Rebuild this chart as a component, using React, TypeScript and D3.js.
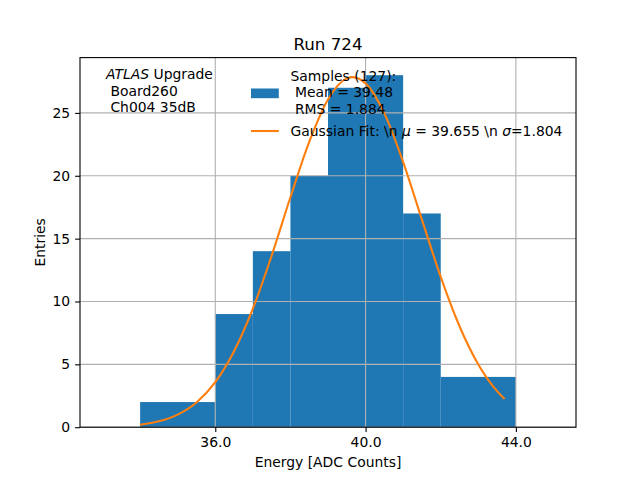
import React, { useEffect, useRef } from 'react';
import * as d3 from 'd3';

// histogram bins (left edge, right edge, entries)
const binLo = [34, 36, 37, 38, 39, 40, 41, 42];
const binHi = [36, 37, 38, 39, 40, 41, 42, 44];
const entries = [2, 9, 14, 20, 27, 28, 17, 4];

// gaussian fit curve
const fitX = [34.0, 34.5, 35.0, 35.5, 36.0, 36.5, 37.0, 37.5, 38.0, 38.5, 39.0, 39.5, 39.65, 40.0, 40.5, 41.0, 41.5, 42.0, 42.5, 43.0, 43.5, 43.7];
const fitY = [0.2, 0.47, 1.0, 1.96, 3.58, 6.04, 9.43, 13.64, 18.29, 22.69, 26.07, 27.75, 27.85, 27.35, 24.96, 21.09, 16.51, 11.96, 8.03, 4.99, 2.87, 2.25];

const xTicks = [36, 40, 44];
const yTicks = [0, 5, 10, 15, 20, 25];

const infoLines = ['Board260', 'Ch004 35dB'];
const sampleLines = ['Samples (127):', ' Mean = 39.48', ' RMS = 1.884'];

const App: React.FC = () => {
  const svgRef = useRef<SVGSVGElement>(null);

  useEffect(() => {
    if (!svgRef.current) return;
    const svg = d3.select(svgRef.current);
    svg.selectAll('*').remove();

    const width = 640;
    const height = 480;
    const margin = { top: 57.6, right: 64, bottom: 52.8, left: 80 };
    const innerW = width - margin.left - margin.right;
    const innerH = height - margin.top - margin.bottom;
    const font = 'DejaVu Sans, sans-serif';

    const x = d3.scaleLinear().domain([32.4, 45.6]).range([0, innerW]);
    const y = d3.scaleLinear().domain([0, 29.4]).range([innerH, 0]);

    svg.append('rect').attr('width', width).attr('height', height).attr('fill', '#fff');

    const g = svg.append('g').attr('transform', `translate(${margin.left},${margin.top})`);

    // bars
    g.selectAll('rect.bar')
      .data(entries)
      .enter()
      .append('rect')
      .attr('class', 'bar')
      .attr('x', (d, i) => x(binLo[i]))
      .attr('y', d => y(d))
      .attr('width', (d, i) => x(binHi[i]) - x(binLo[i]))
      .attr('height', d => innerH - y(d))
      .attr('fill', '#1f77b4');

    // grid on top of bars
    g.append('g')
      .selectAll('line')
      .data(xTicks)
      .enter()
      .append('line')
      .attr('x1', d => x(d))
      .attr('x2', d => x(d))
      .attr('y1', 0)
      .attr('y2', innerH)
      .attr('stroke', '#b0b0b0')
      .attr('stroke-width', 1.1);
    g.append('g')
      .selectAll('line')
      .data(yTicks)
      .enter()
      .append('line')
      .attr('x1', 0)
      .attr('x2', innerW)
      .attr('y1', d => y(d))
      .attr('y2', d => y(d))
      .attr('stroke', '#b0b0b0')
      .attr('stroke-width', 1.1);

    // fit curve
    const line = d3.line<number>()
      .x((d, i) => x(fitX[i]))
      .y(d => y(d))
      .curve(d3.curveMonotoneX);
    g.append('path')
      .attr('d', line(fitY) as string)
      .attr('fill', 'none')
      .attr('stroke', '#ff7f0e')
      .attr('stroke-width', 2.1);

    // spines
    g.append('rect')
      .attr('width', innerW)
      .attr('height', innerH)
      .attr('fill', 'none')
      .attr('stroke', '#000')
      .attr('stroke-width', 1.1);

    // axes
    const xAxis = g.append('g')
      .attr('transform', `translate(0,${innerH})`)
      .call(d3.axisBottom(x).tickValues(xTicks).tickFormat(d3.format('.1f')).tickSize(4.9).tickPadding(4.9));
    const yAxis = g.append('g')
      .call(d3.axisLeft(y).tickValues(yTicks).tickSize(4.9).tickPadding(4.9));
    [xAxis, yAxis].forEach(a => {
      a.select('.domain').remove();
      a.selectAll('line').attr('stroke', '#000').attr('stroke-width', 1.1);
      a.selectAll('text').attr('font-family', font).attr('font-size', 13.9).attr('fill', '#000');
    });
    xAxis.selectAll('text').attr('dy', '0.74em');

    // labels
    svg.append('text')
      .attr('x', margin.left + innerW / 2)
      .attr('y', 50)
      .attr('text-anchor', 'middle')
      .attr('font-family', font)
      .attr('font-size', 16.7)
      .text('Run 724');
    svg.append('text')
      .attr('x', margin.left + innerW / 2)
      .attr('y', 466.5)
      .attr('text-anchor', 'middle')
      .attr('font-family', font)
      .attr('font-size', 13.9)
      .text('Energy [ADC Counts]');
    svg.append('text')
      .attr('transform', `translate(44.5,${margin.top + innerH / 2}) rotate(-90)`)
      .attr('text-anchor', 'middle')
      .attr('font-family', font)
      .attr('font-size', 13.9)
      .text('Entries');

    // top-left annotation
    const info = svg.append('text')
      .attr('font-family', font)
      .attr('font-size', 13.9)
      .style('white-space', 'pre');
    const l1 = info.append('tspan').attr('x', 106).attr('y', 79);
    l1.append('tspan').attr('font-style', 'italic').text('ATLAS');
    l1.append('tspan').text(' Upgrade');
    infoLines.forEach((t, i) => {
      info.append('tspan').attr('x', 106).attr('y', 95.7 + i * 16.7).text(' ' + t);
    });

    // legend
    const leg = svg.append('g').attr('font-family', font).attr('font-size', 13.9);
    leg.append('rect')
      .attr('x', 251)
      .attr('y', 88.5)
      .attr('width', 27.8)
      .attr('height', 9.7)
      .attr('fill', '#1f77b4');
    const st = leg.append('text').style('white-space', 'pre');
    sampleLines.forEach((t, i) => {
      st.append('tspan').attr('x', 290.5).attr('y', 80.5 + i * 16.8).text(t);
    });
    leg.append('line')
      .attr('x1', 251)
      .attr('x2', 278.8)
      .attr('y1', 131)
      .attr('y2', 131)
      .attr('stroke', '#ff7f0e')
      .attr('stroke-width', 2.1);
    const gt = leg.append('text').attr('x', 290.5).attr('y', 136).style('white-space', 'pre');
    gt.append('tspan').text('Gaussian Fit: \\n ');
    gt.append('tspan').attr('font-style', 'italic').text('\u03bc');
    gt.append('tspan').text(' = 39.655 \\n ');
    gt.append('tspan').attr('font-style', 'italic').text('\u03c3');
    gt.append('tspan').text('=1.804');
  }, []);

  return (
    <svg
      ref={svgRef}
      width={640}
      height={480}
      style={{ position: 'absolute', left: 0, top: 0, display: 'block' }}
    />
  );
};

export default App;
